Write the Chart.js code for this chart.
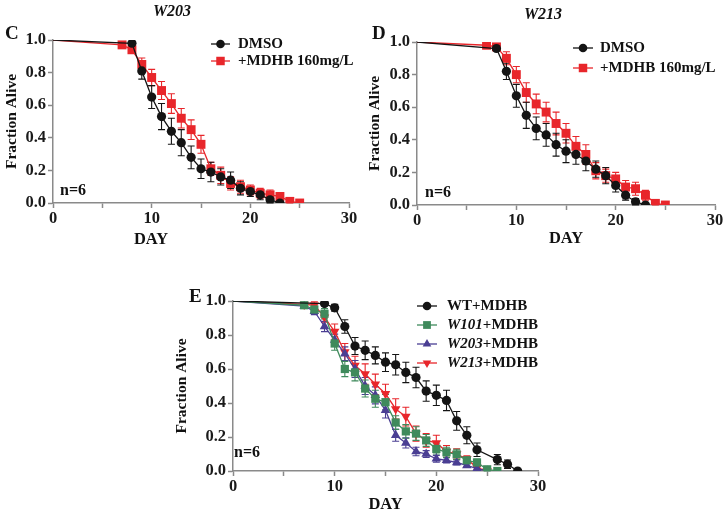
<!DOCTYPE html>
<html><head><meta charset="utf-8">
<script src="https://cdn.jsdelivr.net/npm/chart.js@4.4.1/dist/chart.umd.min.js"></script>
<style>
html,body{margin:0;padding:0;background:#fff;width:726px;height:516px;overflow:hidden}
canvas{position:absolute}
</style></head><body>
<canvas id="cC" width="363" height="250" style="left:0px;top:0px"></canvas>
<canvas id="cD" width="363" height="250" style="left:363px;top:0px"></canvas>
<canvas id="cE" width="380" height="266" style="left:170px;top:250px"></canvas>
<script>
// ---------- DATA ----------
// Panel C (W203)
const cDaysDMSO = [0,8,9,10,11,12,13,14,15,16,17,18,19,20,21,22,23];
const cDMSO     = [1.0,0.98,0.81,0.65,0.53,0.44,0.37,0.28,0.21,0.19,0.16,0.14,0.09,0.07,0.05,0.02,0.0];
const cDMSOErr  = [0,0.01,0.05,0.07,0.08,0.08,0.08,0.07,0.06,0.06,0.05,0.05,0.04,0.03,0.03,0.02,0];
const cDaysMDHB = [0,7,8,9,10,11,12,13,14,15,16,17,18,19,20,21,22,23,24,25];
const cMDHB     = [1.0,0.97,0.94,0.85,0.77,0.69,0.61,0.52,0.45,0.36,0.21,0.17,0.12,0.10,0.08,0.06,0.05,0.04,0.01,0.0];
const cMDHBErr  = [0,0.01,0.02,0.04,0.05,0.055,0.06,0.06,0.06,0.055,0.04,0.05,0.04,0.04,0.03,0.03,0.03,0.02,0.01,0];
// Panel D (W213)
const dDaysDMSO = [0,8,9,10,11,12,13,14,15,16,17,18,19,20,21,22,23];
const dDMSO     = [1.0,0.96,0.82,0.67,0.55,0.47,0.43,0.37,0.33,0.31,0.27,0.22,0.18,0.12,0.06,0.02,0.0];
const dDMSOErr  = [0,0.01,0.05,0.07,0.08,0.07,0.07,0.07,0.07,0.06,0.06,0.05,0.05,0.04,0.03,0.02,0];
const dDaysMDHB = [0,7,8,9,10,11,12,13,14,15,16,17,18,19,20,21,22,23,24,25];
const dMDHB     = [1.0,0.98,0.97,0.90,0.80,0.69,0.62,0.57,0.50,0.44,0.36,0.31,0.21,0.18,0.16,0.11,0.10,0.06,0.01,0.0];
const dMDHBErr  = [0,0.01,0.02,0.04,0.05,0.06,0.06,0.06,0.07,0.06,0.06,0.06,0.05,0.04,0.04,0.04,0.04,0.03,0.01,0];
// Panel E
const eDaysWT   = [0,9,10,11,12,13,14,15,16,17,18,19,20,21,22,23,24,26,27,28];
const eWT       = [1.0,0.985,0.96,0.85,0.735,0.71,0.68,0.64,0.625,0.58,0.55,0.47,0.445,0.415,0.295,0.21,0.125,0.067,0.04,0.0];
const eWTErr    = [0,0.01,0.02,0.04,0.05,0.055,0.05,0.055,0.06,0.06,0.06,0.06,0.06,0.06,0.055,0.05,0.04,0.03,0.025,0];
const eDaysW101 = [0,7,8,9,10,11,12,13,14,15,16,17,18,19,20,21,22,23,24,25,26];
const eW101     = [1.0,0.975,0.95,0.925,0.75,0.60,0.58,0.485,0.425,0.405,0.285,0.233,0.22,0.18,0.13,0.11,0.098,0.063,0.05,0.01,0.0];
const eW101Err  = [0,0.01,0.02,0.03,0.04,0.045,0.05,0.05,0.05,0.045,0.04,0.04,0.04,0.035,0.03,0.03,0.03,0.02,0.02,0.01,0];
const eDaysW203 = [0,7,8,9,10,11,12,13,14,15,16,17,18,19,20,21,22,23,24,25];
const eW203     = [1.0,0.97,0.94,0.85,0.77,0.69,0.60,0.50,0.445,0.357,0.21,0.165,0.115,0.10,0.072,0.063,0.05,0.033,0.014,0.0];
const eW203Err  = [0,0.01,0.02,0.03,0.035,0.04,0.05,0.05,0.05,0.045,0.035,0.03,0.025,0.02,0.02,0.015,0.015,0.01,0.01,0];
const eDaysW213 = [0,7,8,9,10,11,12,13,14,15,16,17,18,19,20,21,22,23,24,25];
const eW213     = [1.0,0.98,0.975,0.905,0.82,0.70,0.62,0.57,0.51,0.455,0.365,0.32,0.22,0.18,0.165,0.115,0.10,0.07,0.02,0.0];
const eW213Err  = [0,0.01,0.02,0.03,0.045,0.05,0.055,0.06,0.06,0.055,0.06,0.055,0.045,0.04,0.045,0.035,0.03,0.02,0.01,0];

const xTicks = [0,10,20,30];
const yTicks = [0.0,0.2,0.4,0.6,0.8,1.0];

// ---------- STYLE ----------
const SERIF = "'Liberation Serif','Times New Roman',serif";
const BLACK = '#141414', RED = '#e8262b', GREEN = '#3f8a5c', PURPLE = '#4a3e93';
const AXIS = '#8a8a8a';

function pts(days, vals){ return days.map((d,i)=>({x:d,y:vals[i]})); }

function series(label, days, vals, errs, color, style, r, rot){
  return {
    label, data: pts(days, vals), errors: errs,
    borderColor: color, backgroundColor: color, borderWidth: 1.3,
    pointStyle: style, pointRotation: rot||0,
    pointRadius: days.map(d => d===0 ? 0 : r),
    pointBorderWidth: 0, pointHoverRadius: 0,
    tension: 0, fill: false
  };
}

function drawMarker(ctx, style, x, y, r, rot, color){
  ctx.save(); ctx.fillStyle = color; ctx.beginPath();
  if (style === 'circle') { ctx.arc(x, y, r, 0, Math.PI*2); }
  else if (style === 'rect') { const s = Math.SQRT1_2*r; ctx.rect(x-s, y-s, 2*s, 2*s); }
  else if (style === 'triangle') {
    let a = (rot||0)*Math.PI/180;
    ctx.moveTo(x+Math.sin(a)*r, y-Math.cos(a)*r);
    a += 2*Math.PI/3; ctx.lineTo(x+Math.sin(a)*r, y-Math.cos(a)*r);
    a += 2*Math.PI/3; ctx.lineTo(x+Math.sin(a)*r, y-Math.cos(a)*r);
    ctx.closePath();
  }
  ctx.fill(); ctx.restore();
}

const errorBars = {
  id: 'errorBars',
  beforeDatasetsDraw(chart){
    const ctx = chart.ctx, xs = chart.scales.x, ys = chart.scales.y;
    for (let i = chart.data.datasets.length-1; i >= 0; i--) {
      const ds = chart.data.datasets[i];
      if (!ds.errors) continue;
      ctx.save(); ctx.strokeStyle = ds.borderColor; ctx.lineWidth = 1.1;
      ds.data.forEach((p, j) => {
        const e = ds.errors[j]; if (!e) return;
        const px = xs.getPixelForValue(p.x);
        const yt = ys.getPixelForValue(p.y + e);
        const yb = ys.getPixelForValue(Math.max(p.y - e, 0));
        ctx.beginPath();
        ctx.moveTo(px, yt); ctx.lineTo(px, yb);
        ctx.moveTo(px-3.5, yt); ctx.lineTo(px+3.5, yt);
        ctx.moveTo(px-3.5, yb); ctx.lineTo(px+3.5, yb);
        ctx.stroke();
      });
      ctx.restore();
    }
  }
};

const decor = {
  id: 'decor',
  afterDraw(chart, args, opts){
    const ctx = chart.ctx;
    ctx.save();
    (opts.texts||[]).forEach(t => {
      ctx.font = t.font; ctx.fillStyle = '#111';
      ctx.textAlign = t.align || 'left'; ctx.textBaseline = 'middle';
      ctx.fillText(t.text, t.x, t.y);
    });
    const lg = opts.legend;
    if (lg) {
      lg.items.forEach((it, k) => {
        const y = lg.y + k*lg.dy;
        ctx.strokeStyle = it.color; ctx.lineWidth = 1.3;
        ctx.beginPath(); ctx.moveTo(lg.x1, y); ctx.lineTo(lg.x2, y); ctx.stroke();
        drawMarker(ctx, it.style, (lg.x1+lg.x2)/2, y, it.r, it.rot, it.color);
        let x = lg.tx;
        ctx.textAlign = 'left'; ctx.textBaseline = 'middle'; ctx.fillStyle = '#111';
        it.parts.forEach(([txt, ital]) => {
          ctx.font = (ital ? 'italic ' : '') + 'bold 15px ' + SERIF;
          ctx.fillText(txt, x, y);
          x += ctx.measureText(txt).width;
        });
      });
    }
    ctx.restore();
  }
};

function makeChart(id, W, H, area, datasets, decorOpts, xTitle){
  const tickFont = {family: SERIF, size: 16.5, weight: 'bold'};
  return new Chart(document.getElementById(id), {
    type: 'line',
    data: { datasets },
    plugins: [errorBars, decor],
    options: {
      responsive: false, devicePixelRatio: 1, animation: false,
      layout: { padding: { top: area.top, right: W - area.right, left: 0, bottom: 0 } },
      plugins: { legend: {display: false}, tooltip: {enabled: false}, decor: decorOpts },
      scales: {
        x: {
          type: 'linear', min: 0, max: 30,
          afterFit: s => { s.height = H - area.bottom; },
          afterBuildTicks: s => { s.ticks = [0,5,10,15,20,25,30].map(v => ({value: v})); },
          ticks: { font: tickFont, color: '#1a1a1a', padding: 1, maxRotation: 0, autoSkip: false,
                   callback: v => xTicks.includes(v) ? String(v) : '' },
          grid: { drawOnChartArea: false, drawTicks: true, tickLength: 5, tickColor: AXIS, tickWidth: 1.5 },
          border: { display: true, color: AXIS, width: 1.5 },
          title: { display: !!xTitle, text: 'DAY', font: {family: SERIF, size: 16.5, weight: 'bold'}, color: '#111', padding: {top: 0, bottom: 1} }
        },
        y: {
          type: 'linear', min: 0, max: 1,
          afterFit: s => { s.width = area.left; },
          afterBuildTicks: s => { s.ticks = yTicks.map(v => ({value: v})); },
          ticks: { font: tickFont, color: '#1a1a1a', padding: 2, callback: v => Number(v).toFixed(1) },
          grid: { drawOnChartArea: false, drawTicks: true, tickLength: 5, tickColor: AXIS, tickWidth: 1.5 },
          border: { display: true, color: AXIS, width: 1.5 },
          title: { display: true, text: 'Fraction Alive', font: {family: SERIF, size: 15.5, weight: 'bold'}, color: '#111', padding: {top: 3, bottom: 0} }
        }
      }
    }
  });
}

const letterFont = 'bold 19px ' + SERIF;
const titleFont = 'italic bold 16px ' + SERIF;
const nFont = 'bold 16px ' + SERIF;

// Panel C
makeChart('cC', 363, 250, {left: 53, top: 40, right: 349, bottom: 203}, [
  series('DMSO', cDaysDMSO, cDMSO, cDMSOErr, BLACK, 'circle', 4.6),
  series('+MDHB 160mg/L', cDaysMDHB, cMDHB, cMDHBErr, RED, 'rect', 6.3)
], {
  texts: [
    {text: 'W203', x: 172, y: 12, font: titleFont, align: 'center'},
    {text: 'C', x: 5, y: 34, font: letterFont},
    {text: 'n=6', x: 60, y: 191, font: nFont},
    {text: 'DAY', x: 151, y: 240, font: 'bold 16.5px ' + SERIF, align: 'center'}
  ],
  legend: {x1: 211, x2: 230, tx: 238, y: 44, dy: 17, items: [
    {color: BLACK, style: 'circle', r: 4.3, parts: [['DMSO', false]]},
    {color: RED, style: 'rect', r: 6, parts: [['+MDHB 160mg/L', false]]}
  ]}
}, false);

// Panel D
makeChart('cD', 363, 250, {left: 54, top: 42, right: 352, bottom: 205}, [
  series('DMSO', dDaysDMSO, dDMSO, dDMSOErr, BLACK, 'circle', 4.6),
  series('+MDHB 160mg/L', dDaysMDHB, dMDHB, dMDHBErr, RED, 'rect', 6.3)
], {
  texts: [
    {text: 'W213', x: 180, y: 15, font: titleFont, align: 'center'},
    {text: 'D', x: 9, y: 34, font: letterFont},
    {text: 'n=6', x: 62, y: 193, font: nFont}
  ],
  legend: {x1: 210, x2: 230, tx: 237, y: 48, dy: 20, items: [
    {color: BLACK, style: 'circle', r: 4.3, parts: [['DMSO', false]]},
    {color: RED, style: 'rect', r: 6, parts: [['+MDHB 160mg/L', false]]}
  ]}
}, true);

// Panel E
makeChart('cE', 380, 266, {left: 63, top: 51, right: 368, bottom: 221}, [
  series('WT+MDHB', eDaysWT, eWT, eWTErr, BLACK, 'circle', 4.6),
  series('W101+MDHB', eDaysW101, eW101, eW101Err, GREEN, 'rect', 5.8),
  series('W203+MDHB', eDaysW203, eW203, eW203Err, PURPLE, 'triangle', 5.5, 0),
  series('W213+MDHB', eDaysW213, eW213, eW213Err, RED, 'triangle', 5.5, 180)
], {
  texts: [
    {text: 'E', x: 19, y: 47, font: letterFont},
    {text: 'n=6', x: 64, y: 203, font: nFont}
  ],
  legend: {x1: 247, x2: 267, tx: 277, y: 56, dy: 19, items: [
    {color: BLACK, style: 'circle', r: 4.3, parts: [['WT+MDHB', false]]},
    {color: GREEN, style: 'rect', r: 5.5, parts: [['W101', true], ['+MDHB', false]]},
    {color: PURPLE, style: 'triangle', r: 5, rot: 0, parts: [['W203', true], ['+MDHB', false]]},
    {color: RED, style: 'triangle', r: 5, rot: 180, parts: [['W213', true], ['+MDHB', false]]}
  ]}
}, true);
</script>
</body></html>
